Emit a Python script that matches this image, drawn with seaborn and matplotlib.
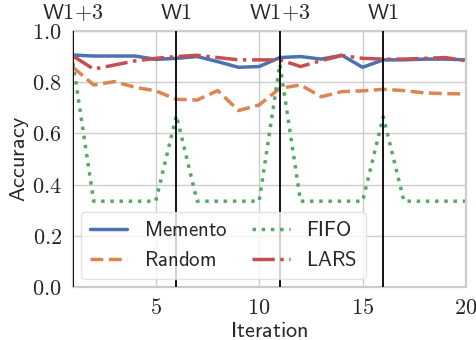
import matplotlib
matplotlib.use("Agg")
import matplotlib.pyplot as plt
import matplotlib.transforms as mtransforms
from matplotlib.ticker import FixedLocator, FuncFormatter
import pandas as pd
import seaborn as sns

# Accuracy per iteration for each cache policy
iterations = list(range(1, 21))
memento = [0.906, 0.902, 0.902, 0.902, 0.889, 0.893, 0.900, 0.880, 0.858, 0.861,
           0.896, 0.900, 0.890, 0.905, 0.858, 0.887, 0.887, 0.890, 0.890, 0.887]
random_acc = [0.858, 0.789, 0.802, 0.780, 0.766, 0.733, 0.730, 0.767, 0.689, 0.711,
              0.776, 0.789, 0.743, 0.763, 0.766, 0.772, 0.767, 0.758, 0.755, 0.754]
fifo = [0.875, 0.335, 0.335, 0.335, 0.335, 0.670, 0.335, 0.335, 0.335, 0.335,
        0.870, 0.335, 0.335, 0.335, 0.335, 0.665, 0.335, 0.335, 0.335, 0.335]
lars = [0.902, 0.851, 0.867, 0.883, 0.893, 0.900, 0.905, 0.896, 0.887, 0.887,
        0.887, 0.861, 0.884, 0.904, 0.893, 0.890, 0.890, 0.893, 0.896, 0.884]

# Workload switches
switch_iters = [1, 6, 11, 16]
switch_labels = ["W1+3", "W1", "W1+3", "W1"]

series_names = ["Memento", "Random", "FIFO", "LARS"]
series_values = [memento, random_acc, fifo, lars]
line_styles = ["-", "--", ":", "-."]

sns.set_theme(style="whitegrid")
plt.rcParams["mathtext.fontset"] = "cm"
plt.rcParams["axes.edgecolor"] = "#cccccc"
plt.rcParams["axes.linewidth"] = 1.6

def sf(s):
    return r"$\mathsf{" + s.replace("+", "{+}") + "}$"

palette = sns.color_palette("deep", 4)

fig = plt.figure(figsize=(4.77, 3.40), dpi=100)
ax = fig.add_axes([0.153, 0.156, 0.824, 0.753])

for i, (name, vals, ls) in enumerate(zip(series_names, series_values, line_styles)):
    df = pd.DataFrame({"Iteration": iterations, "Accuracy": vals})
    sns.lineplot(data=df, x="Iteration", y="Accuracy", ax=ax, color=palette[i],
                 linestyle=ls, linewidth=2.5, label=sf(name))

for x in switch_iters:
    ax.axvline(x, color="black", linewidth=1.3, zorder=5)

trans = mtransforms.blended_transform_factory(ax.transData, ax.transAxes)
for x, lab in zip(switch_iters, switch_labels):
    ax.text(x, 1.03, sf(lab), transform=trans, ha="center", va="bottom",
            fontsize=16, color="#262626")

ax.set_xlim(1, 20)
ax.set_ylim(0, 1.0)
ax.xaxis.set_major_locator(FixedLocator([5, 10, 15, 20]))
ax.yaxis.set_major_locator(FixedLocator([0.0, 0.2, 0.4, 0.6, 0.8, 1.0]))
ax.xaxis.set_major_formatter(FuncFormatter(lambda v, p: r"$%d$" % v))
ax.yaxis.set_major_formatter(FuncFormatter(lambda v, p: r"$%.1f$" % v))
ax.tick_params(axis="both", labelsize=16, pad=2, colors="#262626")

ax.set_xlabel(sf("Iteration"), fontsize=16, labelpad=2, color="#262626")
ax.set_ylabel(sf("Accuracy"), fontsize=16, labelpad=1, color="#262626")

leg = ax.legend(loc="lower left", ncol=2, fontsize=15, handlelength=1.8,
                columnspacing=1.2, borderaxespad=0.4, frameon=True)
leg.get_frame().set_edgecolor("#dddddd")
for t in leg.get_texts():
    t.set_color("#262626")

fig.savefig("out.png", dpi=100)
